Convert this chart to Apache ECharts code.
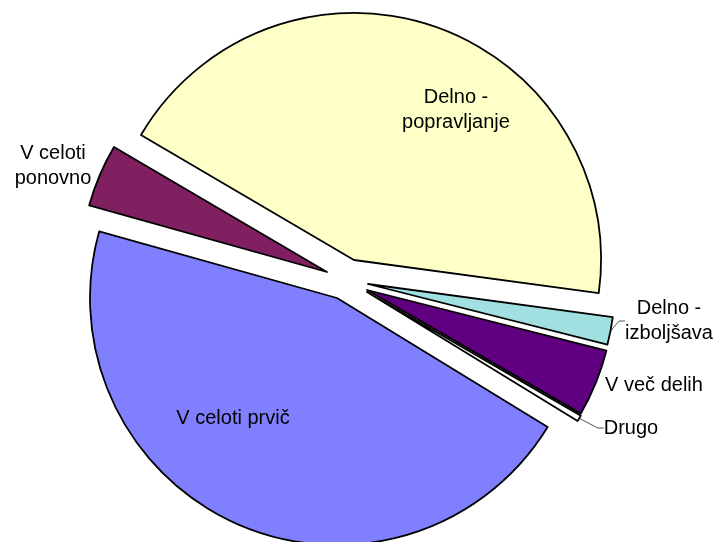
<!DOCTYPE html>
<html>
<head>
<meta charset="utf-8">
<script src="https://cdn.jsdelivr.net/npm/echarts@6/dist/echarts.min.js"></script>
<style>
  html, body { margin: 0; padding: 0; background: #fff; }
  #chart { width: 719px; height: 542px; }
</style>
</head>
<body>
<div id="chart"></div>
<script>
// slices, clockwise from the left edge of the yellow slice
const names = ['Delno - popravljanje', 'Delno - izboljšava', 'V več delih', 'Drugo', 'V celoti prvič', 'V celoti ponovno'];
const labels = ['Delno -\npopravljanje', 'Delno -\nizboljšava', 'V več delih', 'Drugo', 'V celoti prvič', 'V celoti\nponovno'];
const shares = [43.7, 1.8, 4.4, 0.4, 45.6, 4.1];

const colors = ['#FFFFC8', '#A0E0E0', '#600080', '#FFFFFF', '#8080FF', '#802060'];
// each slice is pulled out of the pie a different amount (pixel centres)
const centers = [[354, 260], [368, 284], [367, 290], [367, 292], [337, 298], [327, 272]];
const labelPos = [[456, 110], [669, 321], [654, 385], [631, 428], [233, 418], [53, 166]];
const inside = [true, false, false, false, true, false];
const leader = [false, true, false, true, false, false];

const chart = echarts.init(document.getElementById('chart'));

const series = names.map((own, k) => ({
    type: 'pie',
    center: centers[k],
    radius: 247,
    startAngle: 149.6,
    clockwise: true,
    silent: true,
    animation: false,
    avoidLabelOverlap: false,
    label: {
        position: inside[k] ? 'inside' : 'outside',
        fontFamily: 'Liberation Sans, Arial, sans-serif',
        fontSize: 20,
        color: '#000',
        lineHeight: 25,
        align: 'center',
    },
    labelLine: {
        show: leader[k],
        length: 8,
        length2: 6,
        smooth: false,
        lineStyle: {color: '#555', width: 1},
    },
    labelLayout: {
        x: labelPos[k][0],
        y: labelPos[k][1],
        align: 'center',
        verticalAlign: 'middle',
    },
    data: names.map((name, i) => {
        if (i !== k) {
            return {
                name: name,
                value: shares[i],
                itemStyle: {color: 'rgba(0,0,0,0)', borderWidth: 0},
                label: {show: false},
                labelLine: {show: false},
            };
        }
        return {
            name: name,
            value: shares[i],
            itemStyle: {color: colors[i], borderColor: '#000', borderWidth: 1.8},
            label: {show: true, formatter: labels[i]},
        };
    }),
}));

chart.setOption({
    backgroundColor: '#fff',
    series: series,
});
</script>
</body>
</html>
